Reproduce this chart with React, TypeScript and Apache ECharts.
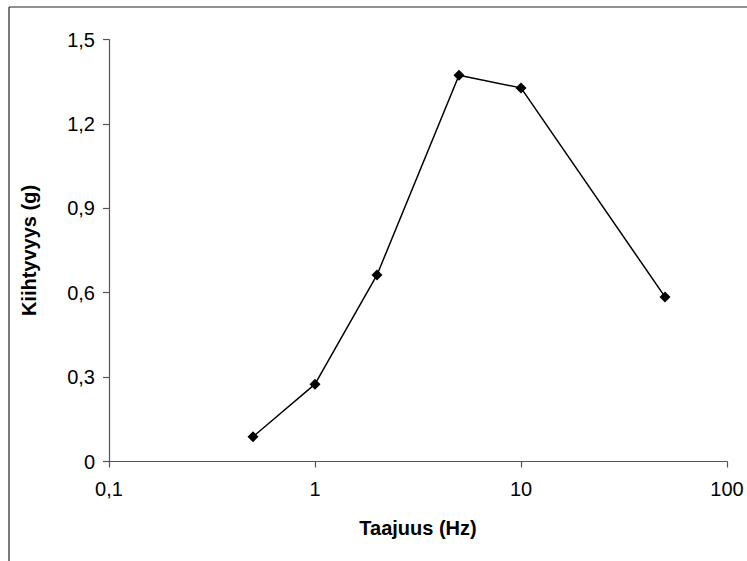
import React, { useEffect, useRef } from "react";
import * as echarts from "echarts";

const frequencies = [0.5, 1, 2, 5, 10, 50];
const accelerations = [0.088, 0.275, 0.663, 1.373, 1.328, 0.585];
const xAxisTitle = "Taajuus (Hz)";
const yAxisTitle = "Kiihtyvyys (g)";

const FONT = "'Liberation Sans', Arial, sans-serif";

function fmt(v: number): string {
  const n = Number(Number(v).toPrecision(6));
  return String(n).replace(".", ",");
}

export default function App() {
  const ref = useRef<HTMLDivElement>(null);
  useEffect(() => {
    if (!ref.current) return;
    const chart = echarts.init(ref.current, undefined, { renderer: "svg" });
    chart.setOption({
      animation: false,
      backgroundColor: "#ffffff",
      grid: { left: 109, right: 20, top: 39.5, bottom: 99.5, containLabel: false },
      graphic: [
        { type: "line", shape: { x1: 9, y1: 7, x2: 747, y2: 7 }, style: { stroke: "#222", lineWidth: 1.2 } },
        { type: "line", shape: { x1: 9, y1: 7, x2: 9, y2: 561 }, style: { stroke: "#222", lineWidth: 1.2 } },
      ],
      xAxis: {
        type: "log",
        logBase: 10,
        min: 0.1,
        max: 100,
        name: xAxisTitle,
        nameLocation: "middle",
        nameGap: 56,
        nameTextStyle: { fontFamily: FONT, fontSize: 20, fontWeight: "bold", color: "#000" },
        axisLine: { lineStyle: { color: "#555", width: 1.2 } },
        axisTick: { show: true, length: 6, lineStyle: { color: "#555", width: 1.2 } },
        axisLabel: { fontFamily: FONT, fontSize: 20, color: "#000", margin: 17, formatter: (v: number) => fmt(v) },
        splitLine: { show: false },
        minorTick: { show: false },
      },
      yAxis: {
        type: "value",
        min: 0,
        max: 1.5,
        interval: 0.3,
        name: yAxisTitle,
        nameLocation: "middle",
        nameGap: 70,
        nameRotate: 90,
        nameTextStyle: { fontFamily: FONT, fontSize: 20, fontWeight: "bold", color: "#000" },
        axisLine: { show: true, lineStyle: { color: "#555", width: 1.2 } },
        axisTick: { show: true, length: 6, lineStyle: { color: "#555", width: 1.2 } },
        axisLabel: {
          fontFamily: FONT,
          fontSize: 20,
          color: "#000",
          margin: 14,
          formatter: (v: number) => (v === 0 ? "0" : v.toFixed(1).replace(".", ",")),
        },
        splitLine: { show: false },
      },
      series: [
        {
          type: "line",
          data: frequencies.map((f, i) => [f, accelerations[i]]),
          symbol: "diamond",
          symbolSize: 11,
          lineStyle: { color: "#000", width: 1.5 },
          itemStyle: { color: "#000" },
        },
      ],
    });
    return () => chart.dispose();
  }, []);
  return (
    <div
      ref={ref}
      style={{ position: "absolute", left: 0, top: 0, width: 747, height: 561, background: "#fff" }}
    />
  );
}
